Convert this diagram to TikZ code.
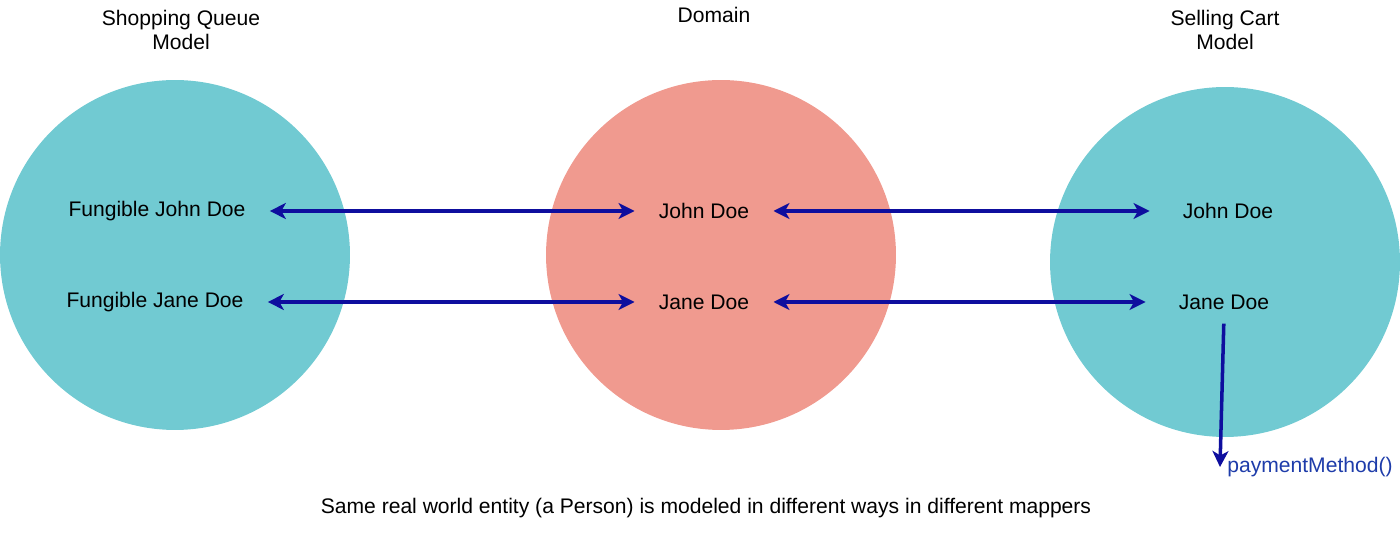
\documentclass[tikz,border=0pt]{standalone}
\usepackage{fontspec}
\setmainfont{Liberation Sans}
\usetikzlibrary{arrows.meta}
\definecolor{modelteal}{RGB}{113,202,210}
\definecolor{domainpink}{RGB}{240,154,143}
\definecolor{mapblue}{RGB}{14,14,158}
\definecolor{callblue}{RGB}{30,60,170}

\begin{document}
\begin{tikzpicture}[x=0.02cm,y=-0.02cm,
	every node/.style={font=\fontsize{12}{14}\selectfont},
	entity/.style={inner xsep=0.48cm},
	farentity/.style={inner xsep=0.66cm},
	maplink/.style={draw=mapblue,line width=2pt,
		{Stealth[length=0.32cm,width=0.32cm,inset=0.09cm]}-{Stealth[length=0.32cm,width=0.32cm,inset=0.09cm]}},
	calllink/.style={draw=mapblue,line width=2pt,-{Stealth[length=0.32cm,width=0.32cm,inset=0.09cm]}}]
			%%%%% START %%%%%
			\useasboundingbox (0,0) rectangle (1400,543);
			
			\fill[modelteal] (175,255) circle[radius=3.5cm];
			\fill[domainpink] (721,255) circle[radius=3.5cm];
			\fill[modelteal] (1225,262) circle[radius=3.5cm];
			
			\node[align=center] (queuetitle) at (181,30) {Shopping Queue\\Model};
			\node (domaintitle) at (714,15) {Domain};
			\node[align=center] (carttitle) at (1225,30) {Selling Cart\\Model};
			
			\node[entity] (john1) at (157,211) {Fungible John Doe};
			\node[entity] (jane1) at (155,302) {Fungible Jane Doe};
			\node[entity] (john2) at (704,211) {John Doe};
			\node[entity] (jane2) at (704,302) {Jane Doe};
			\node[farentity] (john3) at (1228,211) {John Doe};
			\node[farentity] (jane3) at (1224,302) {Jane Doe};
			
			\draw[maplink] (john1.east) -- (john2.west);
			\draw[maplink] (jane1.east) -- (jane2.west);
			\draw[maplink] (john2.east) -- (john3.west);
			\draw[maplink] (jane2.east) -- (jane3.west);
			
			\node[anchor=west,inner xsep=0.14cm,text=callblue] (pay) at (1220,467) {paymentMethod()};
			\draw[calllink,shorten <=0.16cm] (jane3.south) -- (pay.west);
			
			\node (caption) at (706,508) {Same real world entity (a Person) is modeled in different ways in different mappers};
			%%%%% END %%%%%
\end{tikzpicture}
\end{document}
